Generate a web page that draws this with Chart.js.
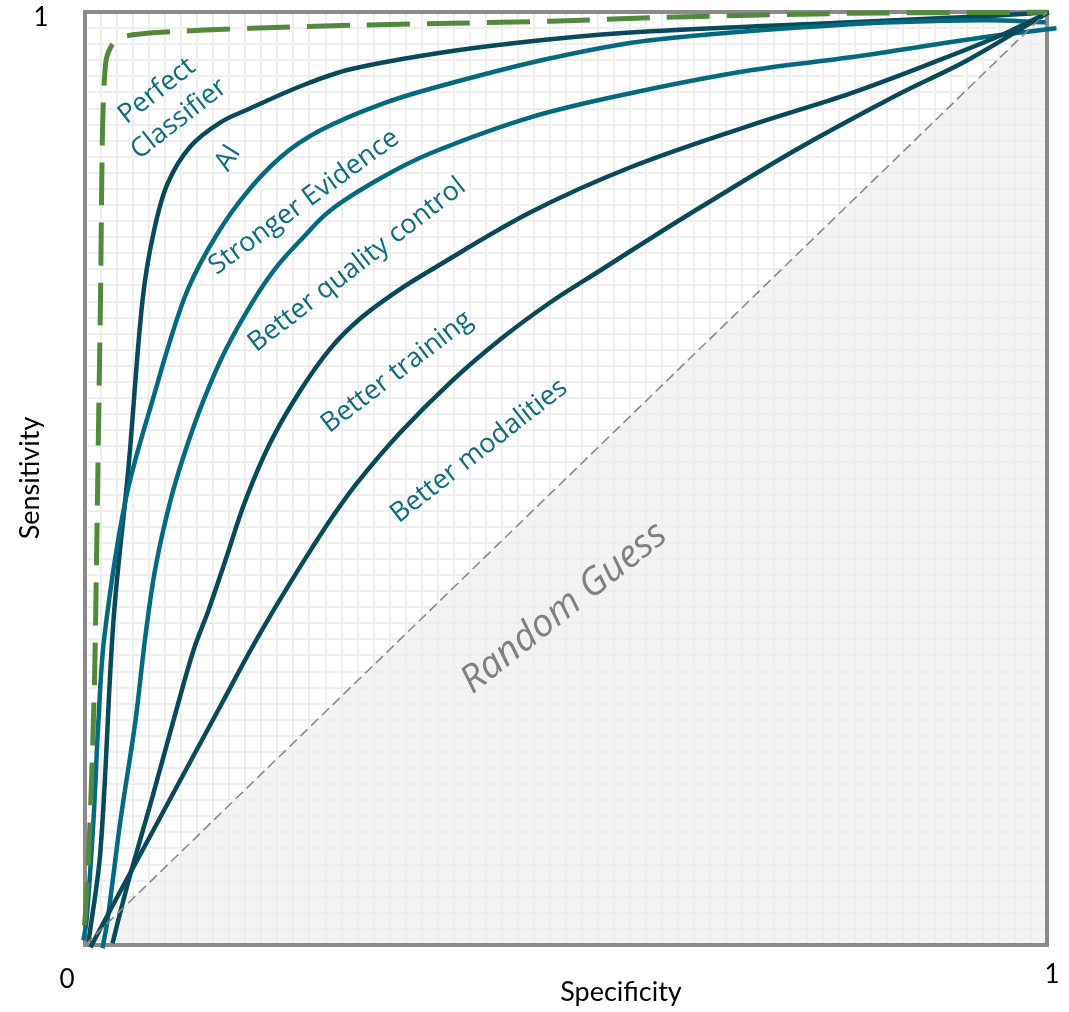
<!DOCTYPE html>
<html>
<head>
<meta charset="utf-8">
<script src="https://cdn.jsdelivr.net/npm/chart.js@4/dist/chart.umd.min.js"></script>
<style>
html,body{margin:0;padding:0;background:#fff;}
#wrap{width:1069px;height:1012px;position:relative;}
</style>
</head>
<body>
<div id="wrap"><canvas id="c" width="1069" height="1012"></canvas></div>
<script>
// ---- Data (x = position on Specificity axis, y = sensitivity) ----
const perfectX = [-0.0047, -0.0005, 0.0036, 0.0068, 0.0099, 0.0120, 0.0140, 0.0161, 0.0172, 0.0182, 0.0198, 0.0223, 0.0286, 0.0421, 0.0785, 0.1720, 0.2760, 0.3799, 0.4839, 0.5879, 0.7957, 1.0005];
const perfectY = [-0.0089, 0.0211, 0.0908, 0.1765, 0.2837, 0.4123, 0.5517, 0.6910, 0.7982, 0.8732, 0.9214, 0.9504, 0.9654, 0.9740, 0.9782, 0.9825, 0.9858, 0.9879, 0.9901, 0.9938, 0.9986, 0.9997];

const aiX = [0.0036, 0.0161, 0.0296, 0.0452, 0.0598, 0.0712, 0.0858, 0.1097, 0.1409, 0.1720, 0.2240, 0.2760, 0.3800, 0.4840, 0.5880, 0.7960, 0.9340, 1.0016];
const aiY = [0.0029, 0.1015, 0.3480, 0.5120, 0.6910, 0.7630, 0.8160, 0.8561, 0.8818, 0.8968, 0.9204, 0.9386, 0.9579, 0.9708, 0.9793, 0.9890, 0.9954, 0.9997];

const evidenceX = [-0.0016, 0.0016, 0.0088, 0.0140, 0.0203, 0.0421, 0.0702, 0.1024, 0.1273, 0.1616, 0.2032, 0.2448, 0.3103, 0.3799, 0.4839, 0.5879, 0.7957, 0.9340, 0.9985];
const evidenceY = [0.0050, 0.0265, 0.1337, 0.2408, 0.3320, 0.4766, 0.5838, 0.6910, 0.7446, 0.7982, 0.8443, 0.8732, 0.9021, 0.9236, 0.9504, 0.9697, 0.9868, 0.9911, 0.9890];

const qualityX = [0.0182, 0.0234, 0.0369, 0.0525, 0.0629, 0.0733, 0.0889, 0.1045, 0.1232, 0.1460, 0.1752, 0.1980, 0.2240, 0.2552, 0.3072, 0.3592, 0.4631, 0.5671, 0.6918, 0.7958, 0.9340, 1.0099];
const qualityY = [-0.0035, 0.0265, 0.1337, 0.2408, 0.3320, 0.4048, 0.4766, 0.5302, 0.5838, 0.6374, 0.6910, 0.7253, 0.7553, 0.7875, 0.8218, 0.8486, 0.8871, 0.9129, 0.9375, 0.9514, 0.9729, 0.9825];

const trainingX = [0.0286, 0.0359, 0.0483, 0.0691, 0.0920, 0.1128, 0.1284, 0.1460, 0.1668, 0.1928, 0.2240, 0.2552, 0.2864, 0.3228, 0.3592, 0.4631, 0.5671, 0.6918, 0.7958, 0.8821, 0.9522, 1.0016];
const trainingY = [0.0018, 0.0319, 0.0801, 0.1551, 0.2408, 0.3159, 0.3588, 0.4124, 0.4766, 0.5388, 0.5945, 0.6395, 0.6717, 0.6996, 0.7232, 0.7853, 0.8336, 0.8786, 0.9129, 0.9461, 0.9751, 0.9997];

const modalitiesX = [0.0057, 0.0317, 0.0598, 0.0878, 0.1159, 0.1440, 0.1720, 0.1929, 0.2136, 0.2344, 0.2583, 0.2833, 0.3280, 0.3799, 0.4319, 0.4839, 0.5359, 0.5879, 0.6398, 0.7438, 0.8477, 0.9173, 1.0016];
const modalitiesY = [-0.0025, 0.0480, 0.1016, 0.1551, 0.2087, 0.2623, 0.3159, 0.3534, 0.3887, 0.4230, 0.4606, 0.4959, 0.5495, 0.6031, 0.6492, 0.6889, 0.7232, 0.7574, 0.7907, 0.8550, 0.9129, 0.9483, 0.9997];

const randomX = [0, 1];
const randomY = [0, 1];

const tickLabels = ['0', '1'];
const axisTitles = { x: 'Specificity', y: 'Sensitivity' };
const curveLabels = ['Perfect', 'Classifier', 'AI', 'Stronger Evidence', 'Better quality control', 'Better training', 'Better modalities'];
const randomLabel = 'Random Guess';

// ---- build ----
const pts = (xs, ys) => xs.map((x, i) => ({ x: x, y: ys[i] }));
const DARK = '#08495a';
const TEAL = '#056a7f';
const LABEL = '#0d6c7e';

function line(data, color, extra) {
  return Object.assign({
    data: data, borderColor: color, borderWidth: 4.5, pointRadius: 0,
    tension: 0.35, fill: false, clip: false, showLine: true
  }, extra || {});
}

const datasets = [
  line(pts(randomX, randomY), '#8a8a8a', { borderWidth: 1.6, borderDash: [10, 5], tension: 0, fill: 'origin', backgroundColor: '#f3f3f3' }),
  line(pts(perfectX, perfectY), '#52893c', { borderWidth: 5, borderDash: [43, 17], tension: 0.25 }),
  line(pts(modalitiesX, modalitiesY), DARK),
  line(pts(trainingX, trainingY), DARK),
  line(pts(qualityX, qualityY), TEAL),
  line(pts(evidenceX, evidenceY), TEAL),
  line(pts(aiX, aiY), DARK)
];

const framePlugin = {
  id: 'frame',
  beforeDatasetsDraw(chart) {
    const a = chart.chartArea, ctx = chart.ctx;
    ctx.save();
    ctx.strokeStyle = '#8a8a8a';
    ctx.lineWidth = 4;
    ctx.strokeRect(a.left, a.top, a.right - a.left, a.bottom - a.top);
    ctx.restore();
  },
  afterDraw(chart) {
    const ctx = chart.ctx;
    ctx.save();
    ctx.fillStyle = '#000';
    ctx.textAlign = 'center';
    ctx.textBaseline = 'middle';
    ctx.font = '26px Lato, "Liberation Sans", sans-serif';
    ctx.fillText(tickLabels[1], 41, 18);
    ctx.fillText(tickLabels[0], 67, 980);
    ctx.fillText(tickLabels[1], 1052, 975);
    ctx.font = '27px Lato, "Liberation Sans", sans-serif';
    ctx.fillText(axisTitles.x, 621, 992);
    ctx.save();
    ctx.translate(30, 478);
    ctx.rotate(-Math.PI / 2);
    ctx.fillText(axisTitles.y, 0, 0);
    ctx.restore();

    const rot = (txt, x, y, deg, font, color) => {
      ctx.save();
      ctx.translate(x, y);
      ctx.rotate(-deg * Math.PI / 180);
      ctx.font = font;
      ctx.fillStyle = color;
      ctx.fillText(txt, 0, 0);
      ctx.restore();
    };
    const f = '27px "Open Sans", "Noto Sans", sans-serif';
    const pos = [[157, 91, 38], [179, 119, 38], [228, 158, 58], [304, 202, 36], [357, 265, 37.7], [397, 372, 37.4], [479, 451, 38]];
    curveLabels.forEach((t, i) => rot(t, pos[i][0], pos[i][1], pos[i][2], f, LABEL));
    rot(randomLabel, 564, 608, 38.4, 'italic 38px "Open Sans", "Noto Sans", sans-serif', '#808080');
    ctx.restore();
  }
};

new Chart(document.getElementById('c'), {
  type: 'scatter',
  data: { datasets: datasets },
  options: {
    responsive: false,
    animation: false,
    events: [],
    layout: { padding: { left: 85, right: 22, top: 12, bottom: 67 } },
    plugins: {
      legend: { display: false },
      tooltip: { enabled: false },
      filler: { drawTime: 'beforeDraw' }
    },
    scales: {
      x: {
        type: 'linear', min: 0, max: 1,
        ticks: { display: false, stepSize: 1 / 60, maxTicksLimit: 200 },
        grid: { color: '#eeeeee', lineWidth: 2, drawTicks: false },
        border: { display: false }
      },
      y: {
        type: 'linear', min: 0, max: 1,
        ticks: { display: false, stepSize: 1 / 58, maxTicksLimit: 200 },
        grid: { color: '#eeeeee', lineWidth: 2, drawTicks: false },
        border: { display: false }
      }
    }
  },
  plugins: [framePlugin]
});
</script>
</body>
</html>
